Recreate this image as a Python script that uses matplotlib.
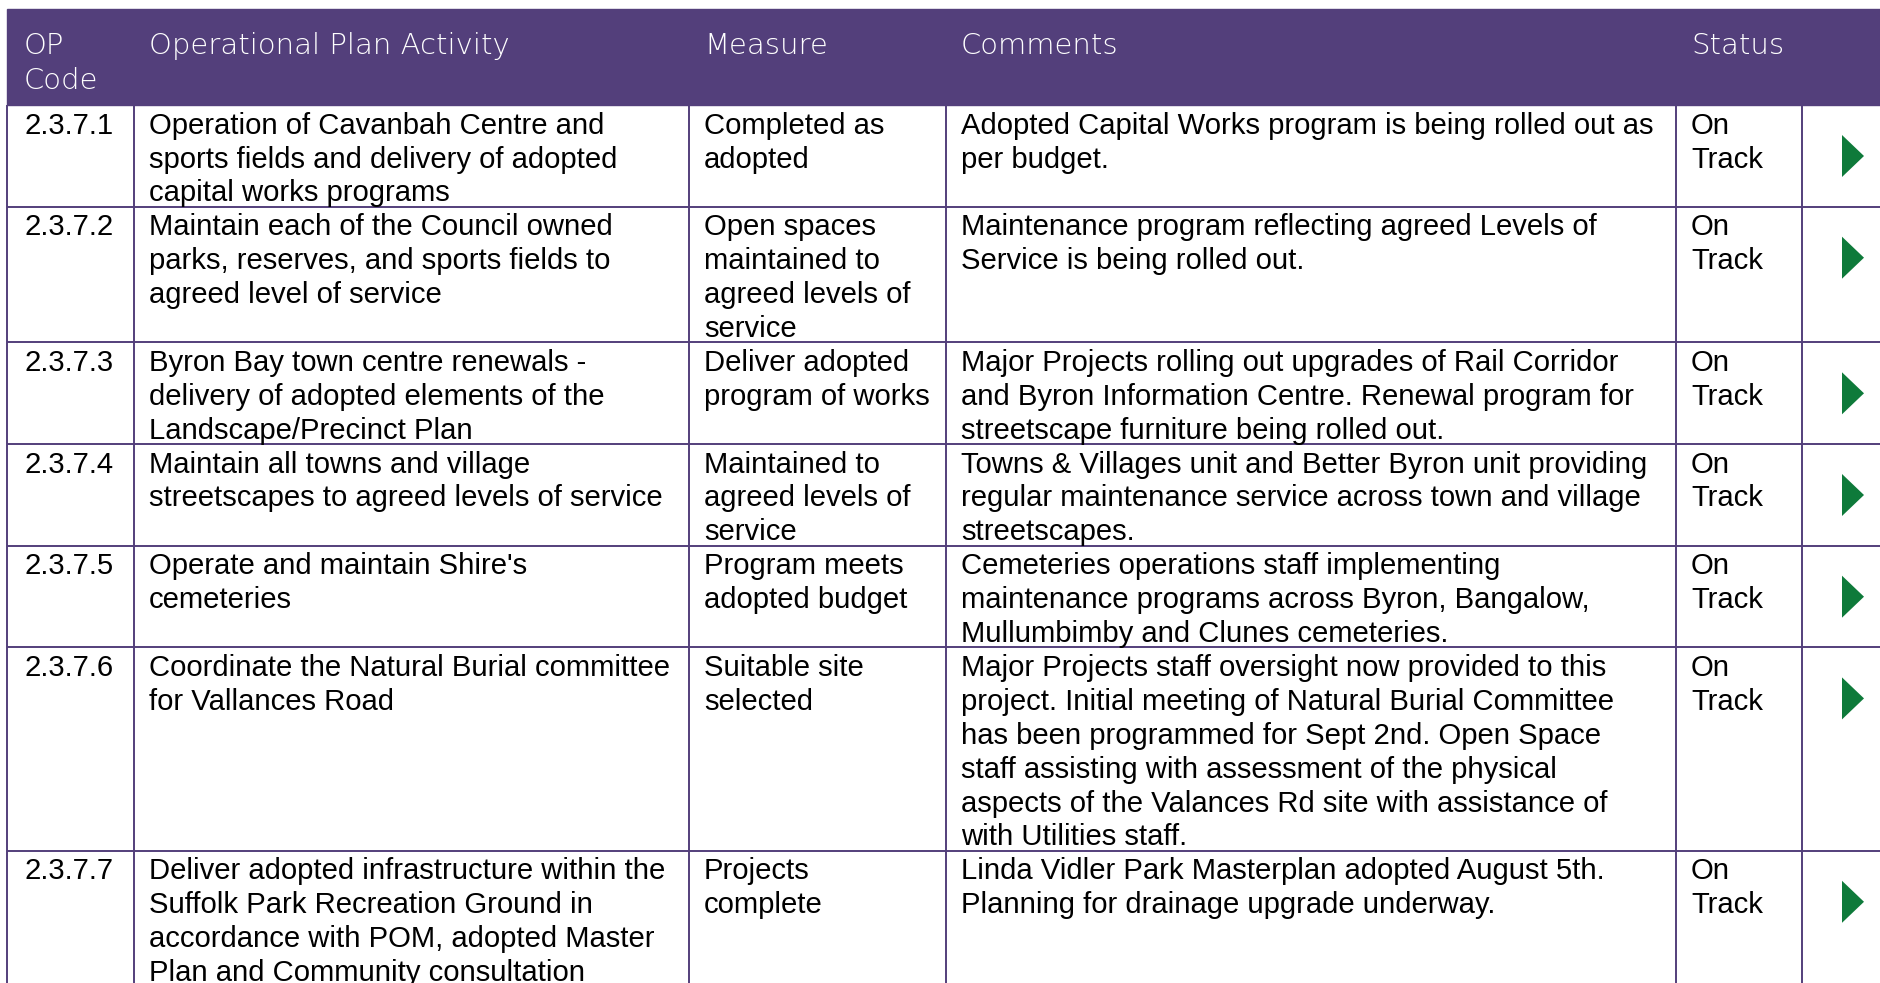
import matplotlib.pyplot as plt
from matplotlib.patches import Rectangle

# table content
headers = ["OP\nCode", "Operational Plan Activity", "Measure", "Comments", "Status"]

codes = ["2.3.7.1", "2.3.7.2", "2.3.7.3", "2.3.7.4", "2.3.7.5", "2.3.7.6", "2.3.7.7"]

activities = [
    "Operation of Cavanbah Centre and\nsports fields and delivery of adopted\ncapital works programs",
    "Maintain each of the Council owned\nparks, reserves, and sports fields to\nagreed level of service",
    "Byron Bay town centre renewals -\ndelivery of adopted elements of the\nLandscape/Precinct Plan",
    "Maintain all towns and village\nstreetscapes to agreed levels of service",
    "Operate and maintain Shire's\ncemeteries",
    "Coordinate the Natural Burial committee\nfor Vallances Road",
    "Deliver adopted infrastructure within the\nSuffolk Park Recreation Ground in\naccordance with POM, adopted Master\nPlan and Community consultation",
]

measures = [
    "Completed as\nadopted",
    "Open spaces\nmaintained to\nagreed levels of\nservice",
    "Deliver adopted\nprogram of works",
    "Maintained to\nagreed levels of\nservice",
    "Program meets\nadopted budget",
    "Suitable site\nselected",
    "Projects\ncomplete",
]

comments = [
    "Adopted Capital Works program is being rolled out as\nper budget.",
    "Maintenance program reflecting agreed Levels of\nService is being rolled out.",
    "Major Projects rolling out upgrades of Rail Corridor\nand Byron Information Centre. Renewal program for\nstreetscape furniture being rolled out.",
    "Towns & Villages unit and Better Byron unit providing\nregular maintenance service across town and village\nstreetscapes.",
    "Cemeteries operations staff implementing\nmaintenance programs across Byron, Bangalow,\nMullumbimby and Clunes cemeteries.",
    "Major Projects staff oversight now provided to this\nproject. Initial meeting of Natural Burial Committee\nhas been programmed for Sept 2nd. Open Space\nstaff assisting with assessment of the physical\naspects of the Valances Rd site with assistance of\nwith Utilities staff.",
    "Linda Vidler Park Masterplan adopted August 5th.\nPlanning for drainage upgrade underway.",
]

status = ["On Track"] * 7

# layout (pixels)
W, H = 1880, 983
PURPLE = "#533f7b"
GREEN = "#0e7a3a"
STATUS_COLORS = {"On Track": GREEN}
col_edges = [7, 134, 689, 946, 1676, 1802, W]
head_top, head_bot = 9, 105
LINE = 33.9
PAD = 15
body_font = ["Liberation Sans", "DejaVu Sans"]
head_font = ["DejaVu Sans"]

fig = plt.figure(figsize=(18.8, 9.83), dpi=100)
ax = fig.add_axes([0, 0, 1, 1])
ax.set_xlim(0, W)
ax.set_ylim(H, 0)
ax.axis("off")

# header band
ax.add_patch(Rectangle((col_edges[0], head_top), W - col_edges[0], head_bot - head_top,
                       color=PURPLE, zorder=1))
for c, h in enumerate(headers):
    for i, line in enumerate(h.split("\n")):
        ax.text(col_edges[c] + PAD + (2 if c == 0 else 0), head_top + 45 + i * 35, line,
                color="white", fontsize=21, family=head_font, fontweight="light",
                va="baseline", ha="left", zorder=3)

# body rows
rows = list(zip(codes, activities, measures, comments, status))
top = head_bot
row_edges = [top]
for r in rows:
    n = max(len(cell.split("\n")) for cell in r[:4])
    n = max(n, 2)
    height = n * LINE
    for c, cell in enumerate(r):
        text = cell.replace("On Track", "On\nTrack") if c == 4 else cell
        for i, line in enumerate(text.split("\n")):
            ax.text(col_edges[c] + PAD + (2 if c == 0 else 0), top + 28.6 + i * LINE, line,
                    color="black", fontsize=21.1, family=body_font,
                    va="baseline", ha="left", zorder=3)
    # status arrow
    cx, cy = 1853, top + 51
    ax.fill([cx - 11, cx + 11, cx - 11], [cy - 21, cy, cy + 21],
            color=STATUS_COLORS[r[4]], lw=0, zorder=3)
    top += height
    row_edges.append(top)

# grid lines
ax.hlines(row_edges, col_edges[0], W, color=PURPLE, lw=1.4, zorder=2)
ax.vlines(col_edges[:-1], head_bot, row_edges[-1], color=PURPLE, lw=1.4, zorder=2)

fig.savefig("out.png", dpi=100)
